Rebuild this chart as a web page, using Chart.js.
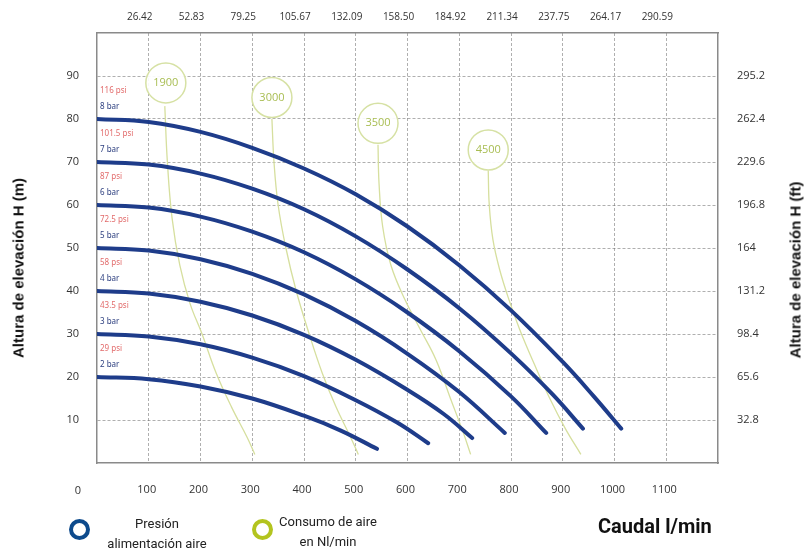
<!DOCTYPE html>
<html>
<head>
<meta charset="utf-8">
<script src="https://cdn.jsdelivr.net/npm/chart.js@4.4.1/dist/chart.umd.min.js"></script>
<style>
html, body { margin: 0; padding: 0; background: #fff; }
#wrap { position: relative; width: 806px; height: 553px; overflow: hidden; }
#chart { position: absolute; left: 0; top: 0; }
.atitle { position: absolute; font: bold 15px "Liberation Sans", Arial, sans-serif; color: #111;
  white-space: nowrap; transform: translate(-50%, -50%) rotate(-90deg); }
.ring { position: absolute; width: 21px; height: 21px; box-sizing: border-box; border-radius: 50%; border: 4px solid; }
.leg { position: absolute; font: 13px "Liberation Sans Narrow", "Roboto", sans-serif; color: #222;
  text-align: center; line-height: 20px; transform: translateX(-50%); white-space: nowrap; }
#caudal { position: absolute; left: 598px; top: 514px; font: bold 20px "Liberation Sans Narrow", "Roboto", sans-serif; color: #111; }
</style>
</head>
<body>
<div id="wrap">
  <canvas id="chart" width="806" height="553"></canvas>
  <div class="atitle" style="left:18px; top:268px;">Altura de elevación H (m)</div>
  <div class="atitle" style="left:795px; top:270px;">Altura de elevación H (ft)</div>
  <div class="ring" style="left:69px; top:519px; border-color:#0d4a8c;"></div>
  <div class="leg" style="left:157px; top:514px;">Presión<br>alimentación aire</div>
  <div class="ring" style="left:252px; top:519px; border-color:#b3c41f;"></div>
  <div class="leg" style="left:328px; top:512px;">Consumo de aire<br>en Nl/min</div>
  <div id="caudal">Caudal l/min</div>
</div>
<script>
// ejes
const flowTicks = [100, 200, 300, 400, 500, 600, 700, 800, 900, 1000, 1100];
const galLabels = ['26.42', '52.83', '79.25', '105.67', '132.09', '158.50', '184.92', '211.34', '237.75', '264.17', '290.59'];
const headTicks = [10, 20, 30, 40, 50, 60, 70, 80, 90];
const ftLabels = ['32.8', '65.6', '98.4', '131.2', '164', '196.8', '229.6', '262.4', '295.2'];

// curvas de presión (caudal l/min, altura m)
const barLabels = ['2 bar', '3 bar', '4 bar', '5 bar', '6 bar', '7 bar', '8 bar'];
const psiLabels = ['29 psi', '43.5 psi', '58 psi', '72.5 psi', '87 psi', '101.5 psi', '116 psi'];
const q2 = [0, 100, 200, 300, 400, 470, 541];
const h2 = [20, 19.5, 17.8, 15, 11, 7.6, 3.3];
const q3 = [0, 100, 200, 300, 400, 500, 580, 640];
const h3 = [30, 29.4, 27.6, 24.5, 20.2, 14.6, 9.4, 4.6];
const q4 = [0, 100, 200, 300, 400, 500, 600, 670, 725];
const h4 = [40, 39.4, 37.5, 34.3, 29.8, 24, 17, 11.4, 5.8];
const q5 = [0, 100, 200, 300, 400, 500, 600, 700, 788];
const h5 = [50, 49.4, 47.4, 44, 39.2, 33, 25.4, 16.5, 7];
const q6 = [0, 100, 200, 300, 400, 500, 600, 700, 800, 868];
const h6 = [60, 59.4, 57.3, 53.8, 49, 42.7, 35, 26, 15.5, 7];
const q7 = [0, 100, 200, 300, 400, 500, 600, 700, 800, 880, 939];
const h7 = [70, 69.4, 67.3, 63.8, 59, 52.7, 45, 36, 25.5, 16, 8];
const q8 = [0, 100, 200, 300, 400, 500, 600, 700, 800, 900, 960, 1013];
const h8 = [80, 79.3, 77, 73.3, 68.5, 62.5, 55, 46, 35.5, 23.5, 15.5, 8];

// consumo de aire Nl/min
const airLabels = ['1900', '3000', '3500', '4500'];
const airBubbleQ = [133, 338, 543, 756];
const airBubbleH = [88.4, 85, 79, 72.8];
const qa1900 = [131, 136, 145, 160, 180, 203, 230, 260, 290, 305];
const ha1900 = [83, 70, 57, 46, 37, 30, 21, 13, 6, 2];
const qa3000 = [338, 342, 350, 365, 385, 410, 435, 462, 490, 505];
const ha3000 = [80, 70, 60, 50, 40, 30, 21, 13, 6, 2];
const qa3500 = [543, 545, 552, 568, 595, 625, 655, 683, 708, 722];
const ha3500 = [74, 65, 55, 46, 38, 31, 24, 15, 7, 2];
const qa4500 = [756, 758, 765, 778, 796, 817, 845, 875, 905, 935];
const ha4500 = [68, 60, 52, 45, 38, 31, 23, 15, 8, 2];

const pts = (qs, hs) => qs.map((q, i) => ({ x: q, y: hs[i] }));

const pressureSets = [[q2, h2], [q3, h3], [q4, h4], [q5, h5], [q6, h6], [q7, h7], [q8, h8]].map(([q, h], i) => ({
  label: barLabels[i],
  data: pts(q, h),
  showLine: true,
  borderColor: '#1e3c8a',
  borderWidth: 4,
  borderCapStyle: 'round',
  pointRadius: 0,
  tension: 0.4,
  order: 1
}));

const airSets = [[qa1900, ha1900], [qa3000, ha3000], [qa3500, ha3500], [qa4500, ha4500]].map(([q, h], i) => ({
  label: airLabels[i],
  data: pts(q, h),
  showLine: true,
  borderColor: '#d6df9e',
  borderWidth: 1.3,
  pointRadius: 0,
  tension: 0.4,
  order: 3
}));

const bubbleSet = {
  label: 'burbujas',
  data: pts(airBubbleQ, airBubbleH),
  showLine: false,
  pointRadius: 20,
  pointHoverRadius: 20,
  pointBackgroundColor: 'rgba(255,255,255,0.92)',
  pointBorderColor: '#d6e1a4',
  pointBorderWidth: 1.5,
  order: 2
};

const textPlugin = {
  id: 'textos',
  afterDatasetsDraw(chart) {
    const { ctx, chartArea, scales: { x, y } } = chart;
    ctx.save();
    ctx.textBaseline = 'middle';
    ctx.textAlign = 'left';
    ctx.font = '8px "Noto Sans", sans-serif';
    pressureSets.forEach((ds, i) => {
      const py = y.getPixelForValue(ds.data[0].y);
      ctx.fillStyle = '#2f4180';
      ctx.fillText(barLabels[i], chartArea.left + 3, py - 12);
      ctx.fillStyle = '#e26b6b';
      ctx.fillText(psiLabels[i], chartArea.left + 3, py - 28);
    });
    ctx.textAlign = 'center';
    ctx.font = '11px "Open Sans", sans-serif';
    ctx.fillStyle = '#a8bd52';
    airLabels.forEach((t, i) => {
      ctx.fillText(t, x.getPixelForValue(airBubbleQ[i]), y.getPixelForValue(airBubbleH[i]));
    });
    // etiqueta 0 del eje inferior
    ctx.fillStyle = '#333';
    ctx.fillText('0', 78, 491);
    ctx.restore();
  }
};

const gridColor = 'rgba(110,110,110,0.55)';
const borderColor = '#8a8a8a';
const tickFont = { family: '"Open Sans", sans-serif', size: 11 };

new Chart(document.getElementById('chart').getContext('2d'), {
  type: 'scatter',
  data: { datasets: [...pressureSets, bubbleSet, ...airSets] },
  options: {
    responsive: false,
    animation: false,
    layout: { padding: 0 },
    plugins: { legend: { display: false }, tooltip: { enabled: false } },
    scales: {
      x: {
        type: 'linear', position: 'bottom', min: 0, max: 1200,
        afterBuildTicks: s => { s.ticks = flowTicks.map(v => ({ value: v })); },
        afterFit: s => { s.height = 90; },
        ticks: { font: tickFont, color: '#333', padding: 20, labelOffset: -2, callback: v => String(v) },
        grid: { color: gridColor, lineWidth: 1, drawTicks: false },
        border: { color: borderColor, width: 1.5, dash: [3, 2] }
      },
      x2: {
        type: 'linear', position: 'top', min: 0, max: 1200,
        afterBuildTicks: s => { s.ticks = flowTicks.map(v => ({ value: v })); },
        afterFit: s => { s.height = 33; },
        ticks: { font: { family: '"Open Sans", sans-serif', size: 10 }, color: '#333', padding: 10, labelOffset: -9,
          callback: v => galLabels[flowTicks.indexOf(v)] },
        grid: { display: false, drawTicks: false },
        border: { color: borderColor, width: 1.5 }
      },
      y: {
        type: 'linear', position: 'left', min: 0, max: 100,
        afterBuildTicks: s => { s.ticks = headTicks.map(v => ({ value: v })); },
        afterFit: s => { s.width = 97; },
        ticks: { font: tickFont, color: '#333', padding: 18 },
        grid: { color: gridColor, lineWidth: 1, drawTicks: false },
        border: { color: borderColor, width: 1.5, dash: [3, 2] }
      },
      y2: {
        type: 'linear', position: 'right', min: 0, max: 100,
        afterBuildTicks: s => { s.ticks = headTicks.map(v => ({ value: v })); },
        afterFit: s => { s.width = 88; },
        ticks: { font: tickFont, color: '#333', padding: 19,
          callback: v => ftLabels[headTicks.indexOf(v)] },
        grid: { display: false, drawTicks: false },
        border: { color: borderColor, width: 1.5 }
      }
    }
  },
  plugins: [textPlugin]
});
</script>
</body>
</html>
